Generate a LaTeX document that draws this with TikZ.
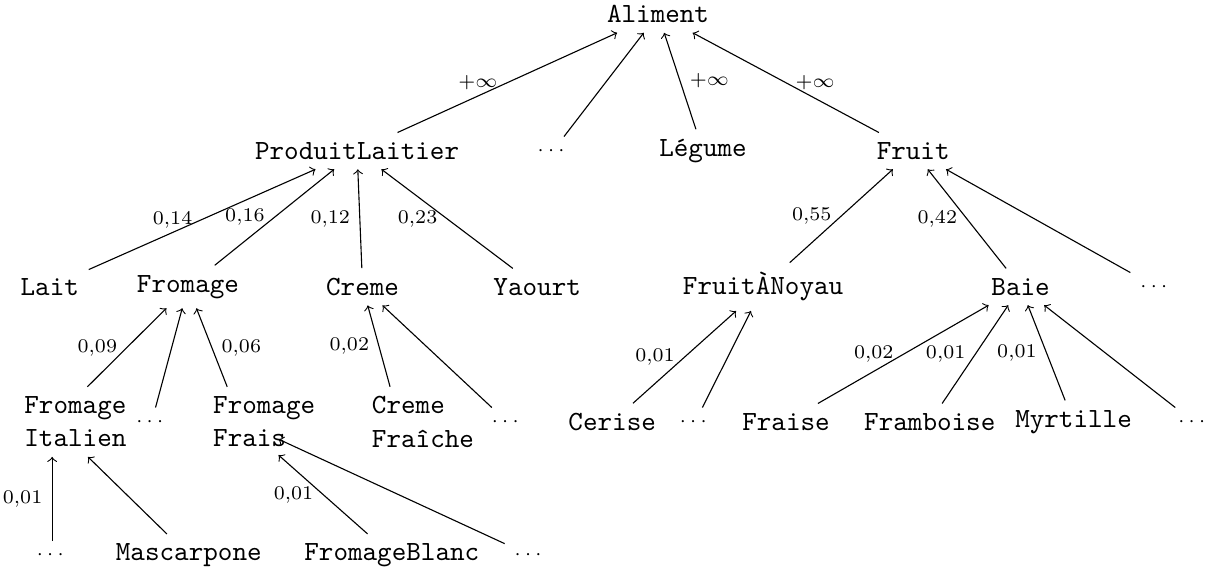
\documentclass[tikz,border=0pt]{standalone}
\usepackage{tikz}
\usepackage{amsmath}
\tikzset{
    cat/.style={font=\ttfamily},
    catlong/.style={font=\ttfamily, text width=20pt, align=left},
    etc/.style={font=\scriptsize},
    poids/.style={font=\scriptsize},
}
\NewDocumentCommand{\arete}{m m o O{left}}{
    % If a weight is provided, put it beside the arrow
    \IfNoValueTF{#3}{
        \draw[->] (#1) -- (#2);
    }{
        \draw[->] (#1) -- node[poids, #4] {#3} (#2);
    }
}
\begin{document}
\begin{tikzpicture}
        \useasboundingbox (0,0) rectangle (15.33,-7.29);
        \def\yA{-0.18}
        \def\yB{-1.91}
        \def\yC{-3.63}
        \def\yD{-5.34}
        \def\yE{-7.03}

        % Nodes
        \node[cat] (alim) at (8.33,\yA) {Aliment};

        \node[cat] (pl) at (4.52,\yB) {ProduitLaitier};
        \node[etc] (d1) at (7.00,\yB) {$\cdots$};
        \node[cat] (leg) at (8.90,\yB) {Légume};
        \node[cat] (fruit) at (11.56,\yB) {Fruit};

        \node[cat] (lait) at (0.63,\yC) {Lait};
        \node[cat] (from) at (2.38,\yC) {Fromage};
        \node[cat] (creme) at (4.59,\yC) {Creme};
        \node[cat] (yaourt) at (6.80,\yC) {Yaourt};
        \node[cat] (fnoyau) at (9.66,\yC) {FruitÀNoyau};
        \node[cat] (baie) at (12.92,\yC) {Baie};
        \node[etc] (d2) at (14.63,\yC) {$\cdots$};

        \node[catlong] (fital) at (0.66,\yD) {Fromage\\Italien};
        \node[etc] (d3) at (1.92,\yD) {$\cdots$};
        \node[catlong] (ffrais) at (3.05,\yD) {Fromage\\Frais};
        \node[catlong] (cfraiche) at (5.06,\yD) {Creme\\Fraîche};
        \node[etc] (d4) at (6.42,\yD) {$\cdots$};
        \node[cat] (cerise) at (7.75,\yD) {Cerise};
        \node[etc] (d5) at (8.80,\yD) {$\cdots$};
        \node[cat] (fraise) at (9.95,\yD) {Fraise};
        \node[cat] (framb) at (11.77,\yD) {Framboise};
        \node[cat] (myrt) at (13.59,\yD) {Myrtille};
        \node[etc] (d6) at (15.11,\yD) {$\cdots$};

        \node[etc] (d7) at (0.66,\yE) {$\cdots$};
        \node[cat] (masc) at (2.39,\yE) {Mascarpone};
        \node[cat] (fblanc) at (4.96,\yE) {FromageBlanc};
        \node[etc] (d8) at (6.71,\yE) {$\cdots$};

        % Edges
        \arete{pl}{alim}[$+\infty$]
        \arete{d1}{alim}
        \arete{leg}{alim}[$+\infty$][right]
        \arete{fruit}{alim}[$+\infty$][right]

        \arete{lait}{pl}[0,14]
        \arete{from}{pl}[0,16]
        \arete{creme}{pl}[0,12]
        \arete{yaourt}{pl}[0,23]
        \arete{fnoyau}{fruit}[0,55]
        \arete{baie}{fruit}[0,42]
        \arete{d2}{fruit}

        \arete{fital}{from}[0,09]
        \arete{d3}{from}
        \arete{ffrais}{from}[0,06][right]
        \arete{cfraiche}{creme}[0,02]
        \arete{d4}{creme}
        \arete{cerise}{fnoyau}[0,01]
        \arete{d5}{fnoyau}
        \arete{fraise}{baie}[0,02]
        \arete{framb}{baie}[0,01]
        \arete{myrt}{baie}[0,01]
        \arete{d6}{baie}

        \arete{d7}{fital}[0,01]
        \arete{masc}{fital}
        \arete{fblanc}{ffrais}[0,01]
        \arete{d8}{ffrais}

    \end{tikzpicture}
\end{document}
